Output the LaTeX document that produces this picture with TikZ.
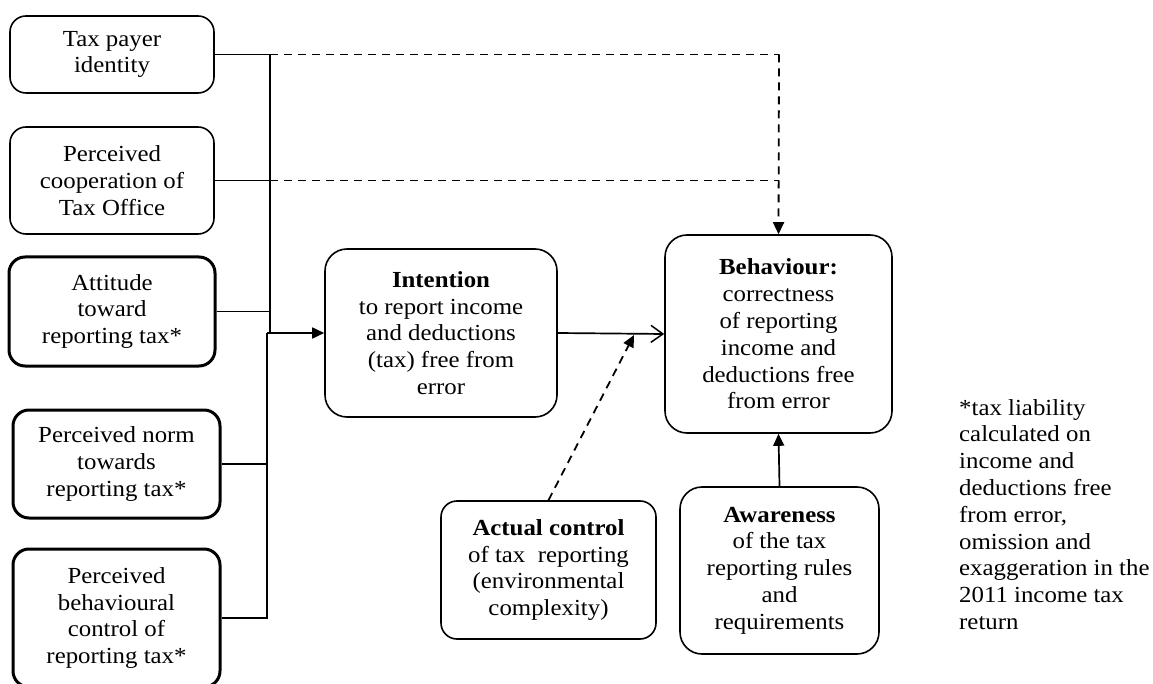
\documentclass[tikz,border=0pt]{standalone}
\usepackage{fontspec}
\setmainfont[FakeStretch=1.08]{Liberation Serif}
\usetikzlibrary{arrows.meta}
\begin{document}
\begin{tikzpicture}[x=1pt,y=-1pt,
  every node/.style={font=\fontsize{23}{26.8}\selectfont, align=center, inner sep=0pt},
  boxthin/.style={draw, line width=1.6pt, rounded corners=16pt},
  boxthick/.style={draw, line width=3pt, rounded corners=16pt},
  boxbig/.style={draw, line width=1.6pt, rounded corners=22pt},
  conn/.style={line width=1.7pt},
  dconn/.style={line width=1.8pt, dash pattern=on 8pt off 6pt},
  fill tip/.style={-{Triangle[length=12pt,width=11pt]}},
  open tip/.style={-{Straight Barb[length=12pt,width=17pt,line width=1.5pt]}}
]
\useasboundingbox (0,0) rectangle (1153,684);
\fill[white] (0,0) rectangle (1153,684);

\node[boxthin, minimum width=204pt, minimum height=77pt] (b1) at (112,54.5) {Tax payer\\identity};
\node[boxthin, minimum width=204pt, minimum height=107pt] (b2) at (112,180.5) {Perceived\\cooperation of\\Tax Office};
\node[boxthick, minimum width=206pt, minimum height=109pt] (b3) at (112,311.5) {Attitude\\toward\\reporting tax*};
\node[boxthick, minimum width=207pt, minimum height=108pt] (b4) at (116.5,464) {Perceived norm\\towards\\reporting tax*};
\node[boxthick, minimum width=207pt, minimum height=138pt] (b5) at (116.5,618) {Perceived\\behavioural\\control of\\reporting tax*};

\node[boxbig, minimum width=232pt, minimum height=168pt] (int) at (441,333) {\textbf{Intention}\\to report income\\and deductions\\(tax) free from\\error};
\node[boxbig, minimum width=227pt, minimum height=198pt] (beh) at (778.5,334) {\textbf{Behaviour:}\\correctness\\of reporting\\income and\\deductions free\\from error};
\node[boxthin, minimum width=215pt, minimum height=138pt] (act) at (548.5,570) {\textbf{Actual control}\\of tax~ reporting\\(environmental\\complexity)};
\node[boxbig, minimum width=199pt, minimum height=167pt] (aw) at (779.5,570.5) {\textbf{Awareness}\\of the tax\\reporting rules\\and\\requirements};

\node[anchor=north west, align=left] (note) at (959,399) {*tax liability\\calculated on\\income and\\deductions free\\from error,\\omission and\\exaggeration in the\\2011 income tax\\return};

\coordinate (j1) at (270,54.5);
\coordinate (j2) at (270,180.5);
\coordinate (j3) at (270,311.5);
\coordinate (jm) at (270,333);
\coordinate (jm2) at (267,333);
\coordinate (j4) at (267,464);
\coordinate (j5) at (267,618);
\coordinate (d1) at (779,54.5);
\coordinate (d2) at (779,180.5);
\coordinate (tip) at (634,335);

\draw[conn] (b1.east) -- (j1) -- (jm);
\draw[conn] (b2.east) -- (j2);
\draw[conn] (b3.east) -- (j3);
\draw[conn] (b4.east) -- (j4);
\draw[conn] (b5.east) -- (j5) -- (jm2);
\draw[conn, fill tip] (jm2) -- (int.west);
\draw[dconn] (j1) -- (d1);
\draw[dconn] (j2) -- (d2);
\draw[dconn, fill tip] (d1) -- (beh.north);
\draw[conn, open tip] (int.east) -- (beh.west);
\draw[dconn, fill tip] (act.north) -- (tip);
\draw[conn, fill tip] (aw.north) -- (beh.south);
\end{tikzpicture}
\end{document}
